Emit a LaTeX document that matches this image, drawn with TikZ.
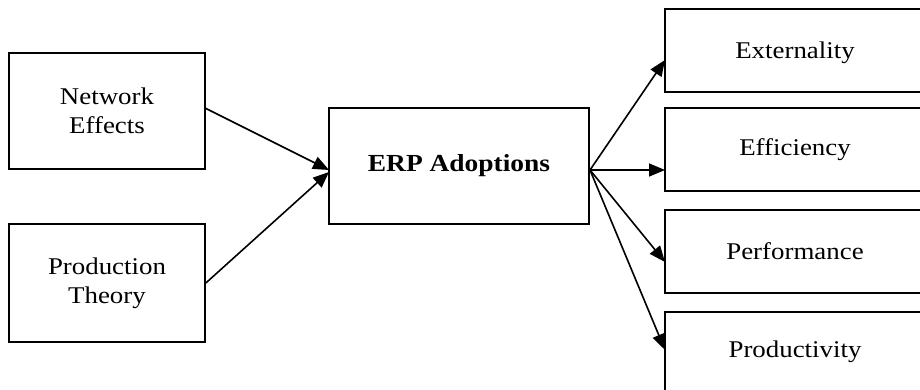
\documentclass[tikz,border=0pt]{standalone}
\usepackage{fontspec}
\setmainfont{Liberation Serif}[FakeStretch=1.12]
\usetikzlibrary{arrows.meta}
\begin{document}
\begin{tikzpicture}[x=1pt,y=-1pt,
  box/.style={draw,line width=1.7pt,inner sep=0pt,align=center,font=\fontsize{24}{29}\selectfont},
  conn/.style={line width=1.6pt,-{Triangle[length=16pt,width=13pt]}}]
\useasboundingbox (0,0) rectangle (920,390);
\clip (0,0) rectangle (920,390);
\node[box,minimum width=196pt,minimum height=116pt,text depth=0pt] (net) at (107,111) {Network\\Effects};
\node[box,minimum width=196pt,minimum height=118pt] (prod) at (107,283) {Production\\Theory};
\node[box,minimum width=260pt,minimum height=116pt,font=\fontsize{24.5}{34}\selectfont\bfseries] (erp) at (459,166) {ERP Adoptions};
\node[box,minimum width=260pt,minimum height=83pt] (ext) at (795,50.5) {};
\node[font=\fontsize{24}{29}\selectfont] (extt) at (795,53) {Externality};
\node[box,minimum width=260pt,minimum height=83pt] (eff) at (795,149.5) {Efficiency};
\node[box,minimum width=260pt,minimum height=83pt] (perf) at (795,251.5) {Performance};
\node[box,minimum width=260pt,minimum height=83pt] (prodv) at (795,353.5) {};
\node[font=\fontsize{24}{29}\selectfont] (prodvt) at (795,352) {Productivity};
\coordinate (netout) at (205,108);
\coordinate (erpin1) at (329,170);
\coordinate (erpin2) at (329,172);
\coordinate (erpout) at (590,170);
\coordinate (extin) at (665,60);
\coordinate (effin) at (665,170);
\coordinate (perfin) at (665,262);
\coordinate (prodvin) at (665,350);
\draw[conn] (netout) -- (erpin1);
\draw[conn] (prod.east) -- (erpin2);
\draw[conn] (erpout) -- (extin);
\draw[conn] (erpout) -- (effin);
\draw[conn] (erpout) -- (perfin);
\draw[conn] (erpout) -- (prodvin);
\end{tikzpicture}
\end{document}
